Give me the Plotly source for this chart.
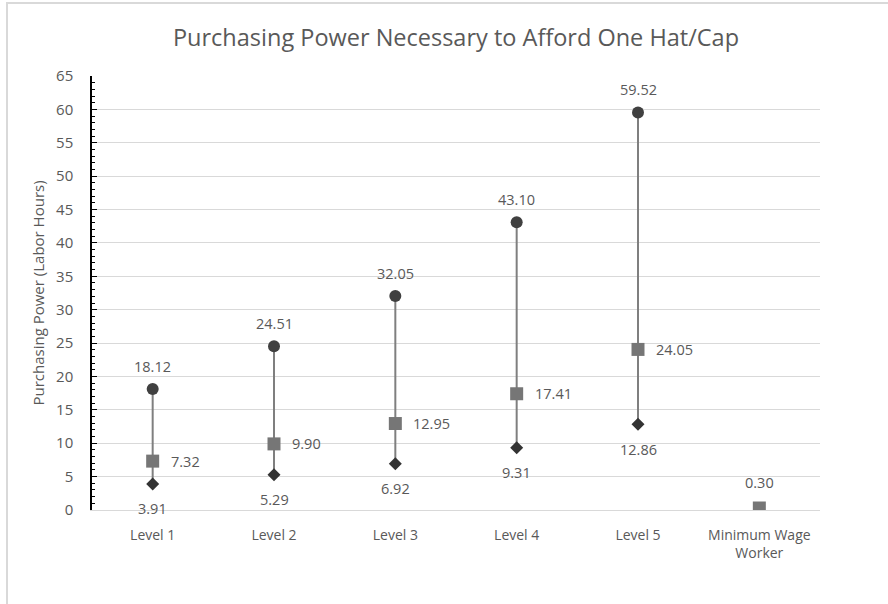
import plotly.graph_objects as go

# Purchasing power (labor hours) needed to buy one hat/cap
categories = ["Level 1", "Level 2", "Level 3", "Level 4", "Level 5", "Minimum Wage<br>Worker"]
high_values = [18.12, 24.51, 32.05, 43.10, 59.52, None]
mid_values = [7.32, 9.90, 12.95, 17.41, 24.05, 0.30]
low_values = [3.91, 5.29, 6.92, 9.31, 12.86, None]

W, H = 888, 604
L, R, T, B = 92, 68, 76, 94
TEXT = "#595959"
FONT = "Open Sans"

fig = go.Figure()

# high-low connector lines
lx, ly = [], []
for c, hi, lo in zip(categories, high_values, low_values):
    if hi is not None and lo is not None:
        lx += [c, c, None]
        ly += [lo, hi, None]
fig.add_trace(go.Scatter(x=lx, y=ly, mode="lines",
                         line=dict(color="#7f7f7f", width=2),
                         hoverinfo="skip", showlegend=False))

fig.add_trace(go.Scatter(x=categories, y=high_values, mode="markers",
                         marker=dict(symbol="circle", size=12, color="#404040"),
                         showlegend=False))
fig.add_trace(go.Scatter(x=categories, y=low_values, mode="markers",
                         marker=dict(symbol="diamond", size=10, color="#333333"),
                         showlegend=False))
fig.add_trace(go.Scatter(x=categories, y=mid_values, mode="markers",
                         marker=dict(symbol="square", size=13, color="#767676"),
                         showlegend=False))

annotations = []
lab_font = dict(family=FONT, size=14.5, color=TEXT)
for c, hi, mid, lo in zip(categories, high_values, mid_values, low_values):
    if hi is not None:
        annotations.append(dict(x=c, y=hi, xref="x", yref="y", text=f"{hi:.2f}",
                                showarrow=False, yshift=23, font=lab_font))
    if lo is not None:
        annotations.append(dict(x=c, y=lo, xref="x", yref="y", text=f"{lo:.2f}",
                                showarrow=False, yshift=-25, font=lab_font))
        annotations.append(dict(x=c, y=mid, xref="x", yref="y", text=f"{mid:.2f}",
                                showarrow=False, xanchor="left", xshift=16, font=lab_font))
    else:
        annotations.append(dict(x=c, y=mid, xref="x", yref="y", text=f"{mid:.2f}",
                                showarrow=False, yshift=26, font=lab_font))

pw, ph = W - L - R, H - T - B
# thin frame around the chart area
shapes = [dict(type="rect", xref="paper", yref="paper",
               x0=(7 - L) / pw, x1=(W + 10 - L) / pw,
               y0=-(B + 10) / ph, y1=(H - B - 3) / ph,
               line=dict(color="#d9d9d9", width=2), fillcolor="rgba(0,0,0,0)",
               layer="below")]

fig.update_layout(
    width=W, height=H,
    margin=dict(l=L, r=R, t=T, b=B),
    paper_bgcolor="white", plot_bgcolor="white",
    title=dict(text="Purchasing Power Necessary to Afford One Hat/Cap",
               x=(L + pw / 2) / W, xanchor="center", y=1 - 38 / H, yanchor="middle",
               font=dict(family=FONT, size=23.5, color=TEXT)),
    annotations=annotations,
    shapes=shapes,
    xaxis=dict(type="category", range=[-0.5, len(categories) - 0.5],
               showgrid=False, showline=True, linecolor="#d9d9d9", linewidth=1,
               ticks="", zeroline=False, ticklabelstandoff=12,
               tickfont=dict(family=FONT, size=14, color=TEXT)),
    yaxis=dict(range=[0, 65], dtick=5, tick0=0, showgrid=True, gridcolor="#d9d9d9",
               gridwidth=1, zeroline=False, showline=True, linecolor="#000000",
               linewidth=1.5, ticks="inside", ticklen=5, tickcolor="#000000",
               minor=dict(dtick=1, ticks="inside", ticklen=3, tickcolor="#000000",
                          showgrid=False),
               ticklabelstandoff=14,
               tickfont=dict(family=FONT, size=15, color=TEXT),
               title=dict(text="Purchasing Power (Labor Hours)", standoff=8,
                          font=dict(family=FONT, size=15, color=TEXT))),
    font=dict(family=FONT, color=TEXT),
)

fig.write_html("out.html")
